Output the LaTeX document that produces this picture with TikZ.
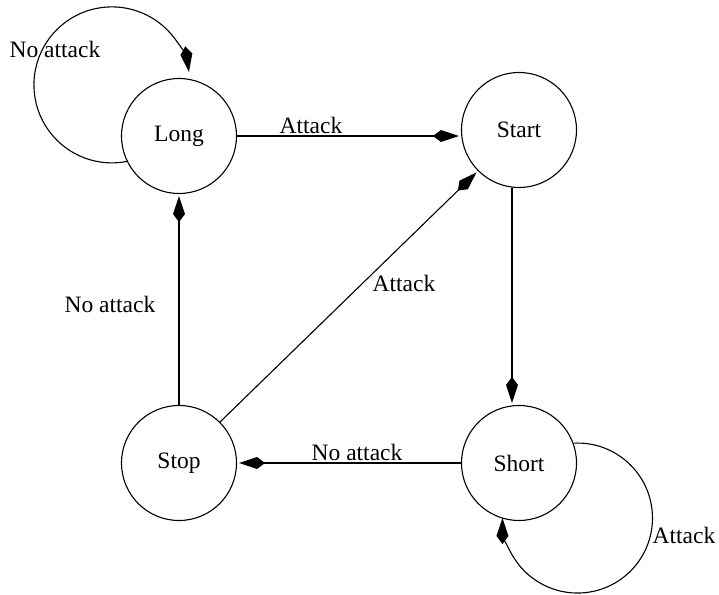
\documentclass[tikz,border=0pt]{standalone}
\usepackage{fontspec}
\setmainfont{Liberation Serif}
\usetikzlibrary{arrows.meta}
\begin{document}
\begin{tikzpicture}[x=1pt,y=1pt,
  state/.style={draw,circle,minimum size=115pt,inner sep=0pt,line width=1.1pt},
  edge/.style={line width=1.1pt,-{Kite[length=26pt,width=12pt,inset=8pt]},shorten >=2pt},
  lbl/.style={inner sep=0pt},
  font=\fontsize{23.5}{27}\selectfont]
\useasboundingbox (0,0) rectangle (719,594);
\node[state] (Long)  at (179,458) {Long};
\node[state] (Start) at (519,464) {Start};
\node[state] (Stop)  at (179,131) {Stop};
\node[state] (Short) at (519,131) {Short};
% edges
\draw[edge] (Long.east) -- (Long.east -| Start.west);
\draw[edge] ([xshift=-7pt]Start.south) -- ([xshift=-7pt]Short.north);
\draw[edge] (Stop.north) -- (Long.south);
\draw[edge] (Stop.45) -- (Start.-135);
\draw[edge] (Short.west) -- (Stop.east);
% loops
\draw[edge] (Long.206) arc[start angle=-79, end angle=-352, radius=78];
\draw[edge,shorten >=0pt] (Short.20) arc[start angle=93, end angle=-180, radius=75];
% labels
\node[lbl] (l1) at (311,469) {Attack};
\node[lbl] (l2) at (404,311) {Attack};
\node[lbl] (l3) at (357,142) {No attack};
\node[lbl] (l4) at (110,290) {No attack};
\node[lbl] (l5) at (55,545) {No attack};
\node[lbl] (l6) at (684,59) {Attack};
\end{tikzpicture}
\end{document}
